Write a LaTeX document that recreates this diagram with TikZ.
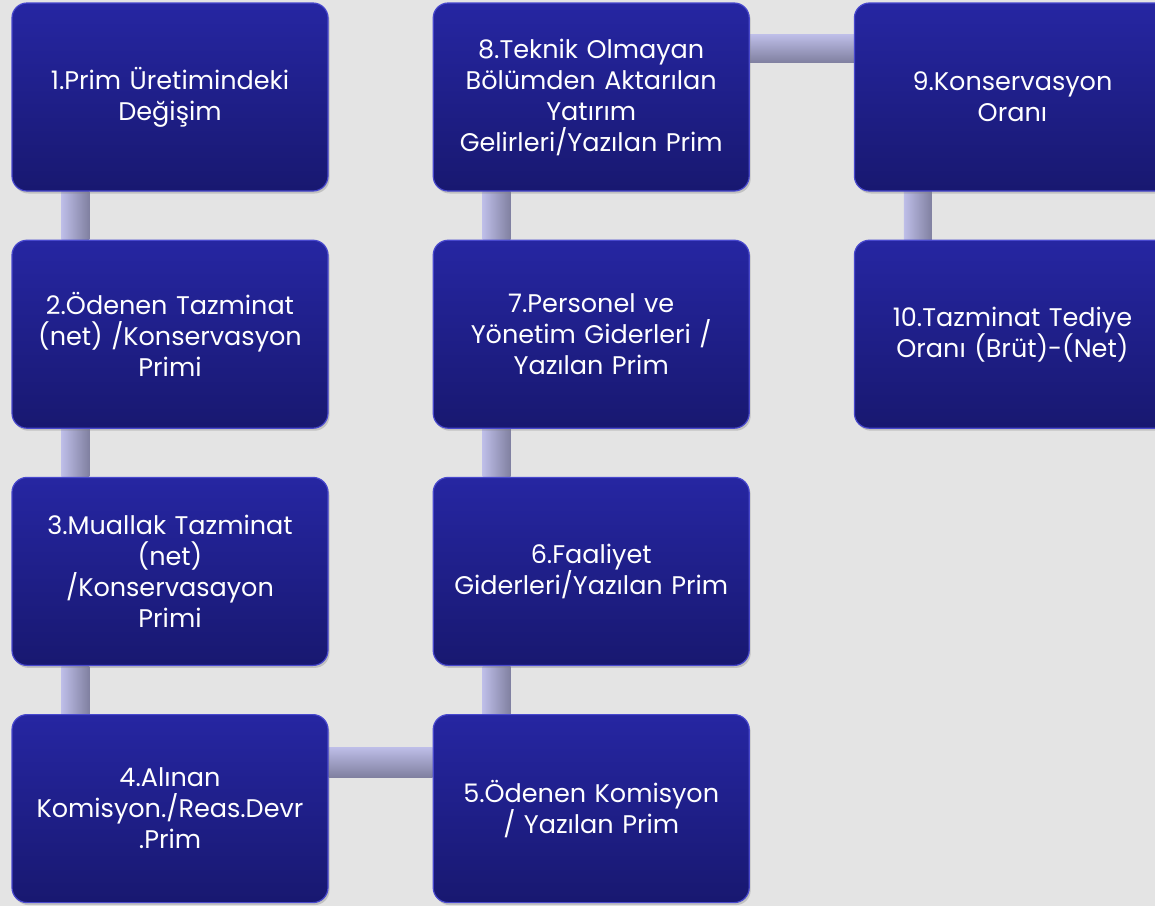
\documentclass[tikz,border=0pt]{standalone}
\usepackage{fontspec}
\setmainfont{Poppins}
\usepackage{tikz}
\usetikzlibrary{positioning,backgrounds,shadows}
\definecolor{pagegray}{RGB}{228,228,228}
\definecolor{boxtop}{RGB}{38,38,162}
\definecolor{boxbot}{RGB}{24,24,112}
\definecolor{boxedge}{RGB}{72,72,205}
\definecolor{barlight}{RGB}{190,190,232}
\definecolor{bardark}{RGB}{128,128,160}

\begin{document}
\begin{tikzpicture}[
  x=1pt, y=-1pt,
  node distance=48pt and 104pt,
  box/.style={rectangle, rounded corners=15pt, draw=boxedge, line width=1.2pt,
    top color=boxtop, bottom color=boxbot,
    minimum width=316pt, minimum height=188pt, align=center,
    text width=306pt, text=white,
    font=\fontsize{25.5}{31}\selectfont,
    drop shadow={shadow xshift=1.5pt, shadow yshift=-2.5pt, opacity=0.35}},
  vbar/.style={left color=barlight, right color=bardark},
  hbar/.style={top color=barlight, bottom color=bardark}
]
% page
\useasboundingbox (0,0) rectangle (1155,906);
\clip (0,0) rectangle (1155,906);

% first column
\node[box] (b1) at (170,97) {1.Prim Üretimindeki\\Değişim};
\node[box, below=of b1] (b2) {2.Ödenen Tazminat\\(net) /Konservasyon\\Primi};
\node[box, below=of b2] (b3) {3.Muallak Tazminat\\(net)\\/Konservasayon\\Primi};
\node[box, below=of b3] (b4) {4.Alınan\\Komisyon./Reas.Devr\\.Prim};

% second column
\node[box, right=of b4] (b5) {5.Ödenen Komisyon\\/ Yazılan Prim};
\node[box, above=of b5] (b6) {6.Faaliyet\\Giderleri/Yazılan Prim};
\node[box, above=of b6] (b7) {7.Personel ve\\Yönetim Giderleri /\\Yazılan Prim};
\node[box, above=of b7] (b8) {8.Teknik Olmayan\\Bölümden Aktarılan\\Yatırım\\Gelirleri/Yazılan Prim};

% third column
\node[box, right=of b8] (b9) {9.Konservasyon\\Oranı};
\node[box, below=of b9] (b10) {10.Tazminat Tediye\\Oranı (Brüt)-(Net)};

% connectors
\begin{scope}[on background layer]
  \fill[pagegray] (0,0) rectangle (1155,906);
  \foreach \a/\b in {b1/b2, b2/b3, b3/b4, b6/b5, b7/b6, b8/b7, b9/b10}
    \path[vbar] ([xshift=50pt]\a.south west) rectangle ([xshift=78pt]\b.north west);
  \path[hbar] ([yshift=-33pt]b4.north east) rectangle ([yshift=-63pt]b5.north west);
  \path[hbar] ([yshift=-32pt]b8.north east) rectangle ([yshift=-60pt]b9.north west);
\end{scope}
\end{tikzpicture}
\end{document}
